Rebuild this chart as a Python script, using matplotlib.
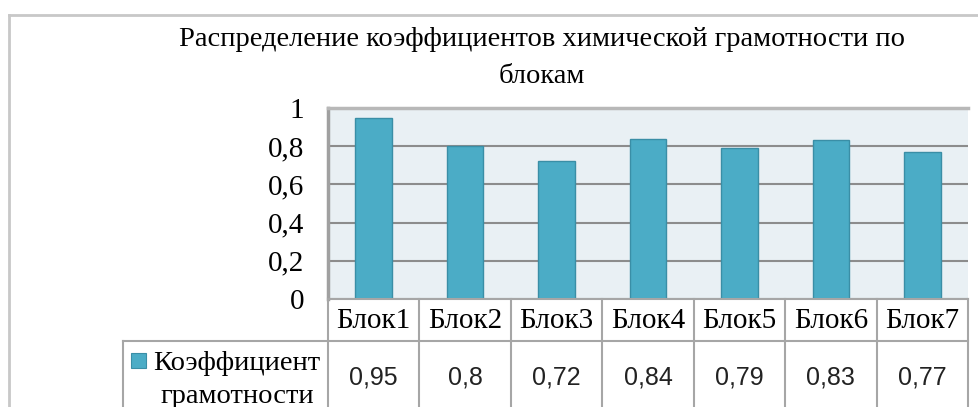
import matplotlib
matplotlib.use("Agg")
import matplotlib.pyplot as plt
import matplotlib.transforms as mtransforms
from matplotlib.lines import Line2D
from matplotlib.patches import Rectangle

# =====================================================
# DADOS
# =====================================================

categorias = ["Блок1", "Блок2", "Блок3", "Блок4", "Блок5", "Блок6", "Блок7"]
valores = [0.95, 0.8, 0.72, 0.84, 0.79, 0.83, 0.77]
rotulos_valores = ["0,95", "0,8", "0,72", "0,84", "0,79", "0,83", "0,77"]
yticks = [0, 0.2, 0.4, 0.6, 0.8, 1.0]
ytick_labels = ["0", "0,2", "0,4", "0,6", "0,8", "1"]
serie = "Коэффициент\nграмотности"
titulo = "Распределение коэффициентов химической грамотности по\nблокам"

# =====================================================
# FIGURA (coordenadas em pixels -> fração)
# =====================================================

W, H = 979, 407
fig = plt.figure(figsize=(W / 100, H / 100), dpi=100)
fig.patch.set_facecolor("white")


def fx(x):
    return x / W


def fy(y):
    return 1 - y / H


serif = "Liberation Serif"
sans = "Liberation Sans"
cor_linha = "#A6A6A6"
cor_barra = "#4BACC6"

# moldura externa do gráfico
fig.add_artist(Line2D([fx(9), fx(9)], [fy(15), 0], color="#C8C8C8", lw=2))
fig.add_artist(Line2D([fx(9), 1], [fy(15), fy(15)], color="#C8C8C8", lw=2))

fig.text(fx(542), fy(27), titulo, ha="center", va="top",
         fontsize=20.5, family=serif, linespacing=1.65)

# área do gráfico
x0, x1, y0, y1 = 328, 968, 108, 299
ax = fig.add_axes([fx(x0), fy(y1), fx(x1 - x0), (y1 - y0) / H])
ax.set_facecolor("#E9F0F4")

ax.bar(range(len(valores)), valores, width=0.4, color=cor_barra,
       edgecolor="#3A8EA6", linewidth=1, zorder=3)

ax.set_xlim(-0.5, len(valores) - 0.5)
ax.set_ylim(0, 1)
ax.set_yticks(yticks)
ax.set_yticklabels(ytick_labels, family=serif, fontsize=21)
ax.set_xticks([])
ax.tick_params(axis="y", length=0, pad=17)
ax.yaxis.grid(True, color="#8C8C8C", linewidth=1.5, zorder=1)
ax.set_axisbelow(True)

for s in ["right", "bottom"]:
    ax.spines[s].set_visible(False)
ax.spines["left"].set_color("#A0A0A0")
ax.spines["left"].set_linewidth(2.5)
ax.spines["top"].set_color("#B8B8B8")
ax.spines["top"].set_linewidth(2.5)

# =====================================================
# TABELA DE DADOS
# =====================================================

tr = mtransforms.blended_transform_factory(ax.transData, fig.transFigure)
n = len(categorias)
y_cat0, y_cat1 = 299, 341

kw = dict(color=cor_linha, lw=1.5, clip_on=False)
# linhas horizontais
fig.add_artist(Line2D([fx(x0), fx(x1)], [fy(y_cat0), fy(y_cat0)], **kw))
fig.add_artist(Line2D([fx(123), fx(x1)], [fy(y_cat1), fy(y_cat1)], **kw))
fig.add_artist(Line2D([fx(123), fx(123)], [fy(y_cat1), 0], **kw))
# linhas verticais nas divisas das categorias
for i in range(n + 1):
    fig.add_artist(Line2D([i - 0.5, i - 0.5], [fy(y_cat0), 0], transform=tr, **kw))

for i, (cat, lab) in enumerate(zip(categorias, rotulos_valores)):
    fig.text(i, fy(321), cat, transform=tr, ha="center", va="center",
             fontsize=21, family=serif)
    fig.text(i, fy(378), lab, transform=tr, ha="center", va="center",
             fontsize=18, family=sans, color="#222222")

# legenda dentro da tabela
fig.add_artist(Rectangle((fx(131), fy(368)), fx(15), 15 / H,
                         facecolor=cor_barra, edgecolor="#3A8EA6", lw=0.8))
fig.text(fx(237), fy(380), serie, ha="center", va="center",
         fontsize=20.5, family=serif, linespacing=1.4, multialignment="center")

plt.savefig("out.png", dpi=100)
